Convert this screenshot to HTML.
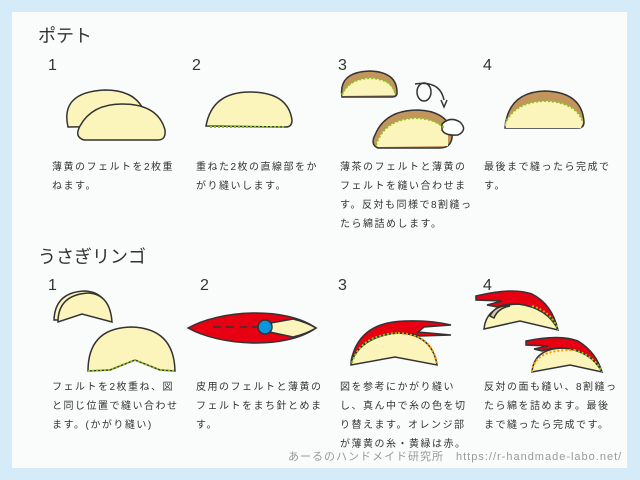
<!DOCTYPE html>
<html><head><meta charset="utf-8"><style>
html,body{margin:0;padding:0;background:#d4ecf8;}
svg{display:block}
text{font-family:"Liberation Sans","Noto Sans CJK JP",sans-serif;fill:#333;}
.t{font-size:10px;letter-spacing:1.5px}
.n{font-size:16px}
</style></head><body>
<svg width="640" height="480" viewBox="0 0 640 480">
<rect width="640" height="480" fill="#d4ecf8"/>
<rect x="12" y="12" width="615" height="456" fill="#fafbfb"/>
<g stroke="#333" stroke-width="1.5">
<path d="M68 127 Q60 92 105 90 Q140 90 146 118 L146 126 Z" fill="#fbf4bb"/>
<path d="M84 140 Q74 137 80 126 Q92 104 122 104 Q158 104 165 130 Q166 140 158 140 Z" fill="#fbf4bb"/>
<path d="M206 126 Q212 92 250 92 Q288 92 292 120 Q292 127 286 127 Z" fill="#fbf4bb"/>
<path d="M342 97 Q338 72 370 71 Q398 72 397 94 Q396 97 392 97 Z" fill="#c1955c"/>
<path d="M342 96 Q348 79 370 78 Q392 79 395 95 Z" fill="#fbf4bb" stroke="none"/>
<path d="M378 148 Q370 145 375 135 Q385 110 418 110 Q445 111 452 130 Q454 148 440 148 Z" fill="#c1955c"/>
<path d="M376 145 Q384 119 416 118 Q440 119 448 135 L448 146 L378 147 Z" fill="#fbf4bb" stroke="none"/>
<path d="M442 124 Q450 116 460 122 Q468 130 458 135 Q445 136 442 130 Z" fill="#fff"/>
<path d="M415 84 Q440 80 444 100" fill="none"/>
<ellipse cx="424" cy="92" rx="7" ry="9" fill="none"/>
<path d="M441 100 L444 107 L447 100" fill="none"/>
<path d="M505 128 Q508 92 545 91 Q582 92 584 122 Q584 128 578 128 Z" fill="#c1955c"/>
<path d="M505 124 Q514 102 545 101 Q576 102 583 122 L581 128 L506 128 Z" fill="#fbf4bb" stroke="none"/>
<path d="M54 320 Q55 292 85 291 Q108 292 110 320 L82 312 L58 320 Z" fill="#fbf4bb"/>
<path d="M58 322 Q58 295 88 293 Q110 294 112 322 L82 314 Z" fill="#fbf4bb"/>
<path d="M88 371 Q88 328 131 327 Q174 328 175 371 L160 370 L135 360 L110 370 Z" fill="#fbf4bb"/>
<path d="M188 328 C220 310 285 306 316 328 C285 350 220 346 188 328 Z" fill="#e60012"/>
<path d="M265 324 L293 319 Q306 322 316 328 Q306 334 293 337 L265 331 Z" fill="#fbf4bb"/>
<line x1="213" y1="327" x2="258" y2="327" stroke-dasharray="8 5"/>
<circle cx="265" cy="327" r="7" fill="#0b96e0"/>
<path d="M351 365 Q352 334 398 333 Q432 334 437 365 L395 357 Z" fill="#fbf4bb"/>
<path d="M351 362 Q358 322 405 321 Q430 320 451 325 L424 327 L418 332 L451 335 L420 336 Q412 333 398 333 Q362 336 351 362 Z" fill="#e60012"/>
<path d="M484 329 Q486 305 518 304 Q550 305 558 330 L520 321 Z" fill="#fbf4bb"/>
<path d="M490 316 Q495 305 510 306 Q498 308 494 318 Z" fill="#d8c9a0"/>
<path d="M476 296 Q512 287 532 294 Q552 304 558 330 Q548 308 518 304 Q505 304 497 307 L487 305 L502 301 L476 300 Z" fill="#e60012"/>
<path d="M532 372 Q534 349 562 348 Q592 349 602 372 L570 365 Z" fill="#fbf4bb"/>
<path d="M526 341 Q560 334 578 341 Q596 352 602 372 Q590 350 562 348 Q550 348 542 351 L534 349 L548 346 L526 345 Z" fill="#e60012"/>
</g>
<g stroke="#8dc21f" stroke-width="2" stroke-dasharray="2 2" fill="none">
<line x1="210" y1="127" x2="286" y2="127"/>
<path d="M342 95 Q348 79 370 78 Q392 79 395 93"/>
<path d="M376 145 Q384 119 416 118 Q436 119 444 128"/>
<path d="M505 124 Q514 102 545 101 Q576 102 583 122"/>
<path d="M88 371 L110 370 L135 360 L160 370 L175 371"/>
<path d="M352 363 Q360 335 398 333"/>
<path d="M532 306 Q552 312 558 330"/>
<path d="M574 350 Q595 356 602 372"/>
</g>
<g stroke="#f39800" stroke-width="2" stroke-dasharray="2 2" fill="none">
<path d="M398 333 Q432 334 437 364"/>
<path d="M532 372 Q534 349 574 350"/>
</g>
<text x="38" y="42" style="font-size:18px">ポテト</text>
<text x="48" y="70" class="n">1</text><text x="192" y="70" class="n">2</text>
<text x="338" y="70" class="n">3</text><text x="483" y="70" class="n">4</text>
<text x="52" y="170" class="t">薄黄のフェルトを2枚重</text>
<text x="52" y="189" class="t">ねます。</text>
<text x="196" y="170" class="t">重ねた2枚の直線部をか</text>
<text x="196" y="189" class="t">がり縫いします。</text>
<text x="340" y="170" class="t">薄茶のフェルトと薄黄の</text>
<text x="340" y="189" class="t">フェルトを縫い合わせま</text>
<text x="340" y="208" class="t">す。反対も同様で8割縫っ</text>
<text x="340" y="227" class="t">たら綿詰めします。</text>
<text x="484" y="170" class="t">最後まで縫ったら完成で</text>
<text x="484" y="189" class="t">す。</text>
<text x="38" y="263" style="font-size:18px">うさぎリンゴ</text>
<text x="48" y="290" class="n">1</text><text x="200" y="290" class="n">2</text>
<text x="338" y="290" class="n">3</text><text x="483" y="290" class="n">4</text>
<text x="52" y="390" class="t">フェルトを2枚重ね、図</text>
<text x="52" y="409" class="t">と同じ位置で縫い合わせ</text>
<text x="52" y="428" class="t">ます。(かがり縫い)</text>
<text x="196" y="390" class="t">皮用のフェルトと薄黄の</text>
<text x="196" y="409" class="t">フェルトをまち針とめま</text>
<text x="196" y="428" class="t">す。</text>
<text x="340" y="390" class="t">図を参考にかがり縫い</text>
<text x="340" y="409" class="t">し、真ん中で糸の色を切</text>
<text x="340" y="428" class="t">り替えます。オレンジ部</text>
<text x="340" y="447" class="t">が薄黄の糸・黄緑は赤。</text>
<text x="484" y="390" class="t">反対の面も縫い、8割縫っ</text>
<text x="484" y="409" class="t">たら綿を詰めます。最後</text>
<text x="484" y="428" class="t">まで縫ったら完成です。</text>
<text x="288" y="460" style="font-size:11px;fill:#999;letter-spacing:1px">あーるのハンドメイド研究所　https://r-handmade-labo.net/</text>
</svg>
</body></html>
